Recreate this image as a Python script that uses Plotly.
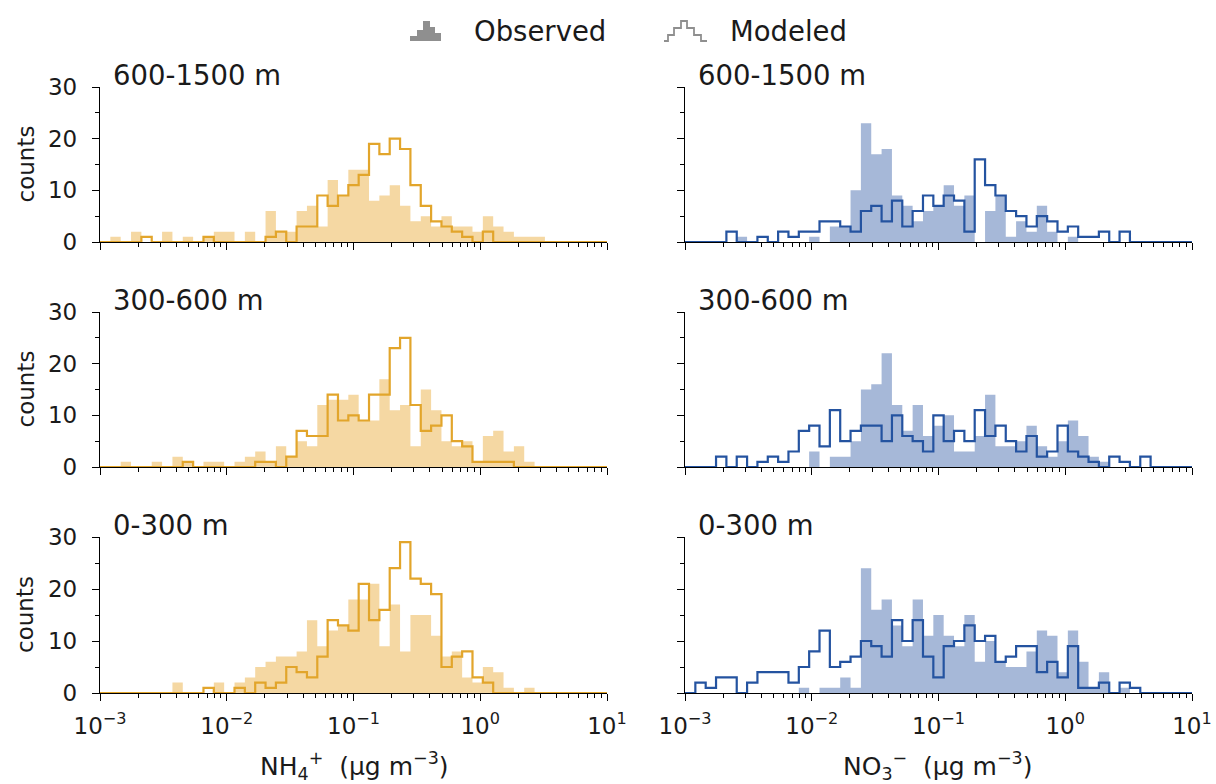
import numpy as np
import plotly.graph_objects as go

# Shared logarithmic bin edges (49 bins from 1e-3 to 1e1)
edges = np.logspace(-3, 1, 50)

# NH4+ counts per bin
nh4_obs_600_1500 = [0, 1, 0, 2, 0, 0, 2, 0, 1, 0,
                    1, 2, 2, 0, 2, 0, 6, 2, 2, 6,
                    7, 3, 12, 9, 14, 14, 8, 9, 11, 7,
                    4, 5, 3, 5, 3, 3, 2, 5, 3, 2,
                    1, 1, 1, 0, 0, 0, 0, 0, 0]
nh4_mod_600_1500 = [0, 0, 0, 0, 1, 0, 0, 0, 0, 0,
                    1, 0, 0, 0, 0, 0, 1, 2, 0, 3,
                    3, 9, 7, 9, 11, 13, 19, 17, 20, 18,
                    11, 7, 4, 3, 2, 1, 0, 2, 0, 0,
                    0, 0, 0, 0, 0, 0, 0, 0, 0]
nh4_obs_300_600 = [0, 0, 1, 0, 0, 1, 0, 2, 1, 0,
                   1, 1, 0, 1, 2, 3, 1, 4, 2, 5,
                   4, 12, 13, 13, 14, 9, 9, 17, 11, 12,
                   4, 15, 11, 5, 4, 5, 1, 6, 7, 3,
                   4, 1, 0, 0, 0, 0, 0, 0, 0]
nh4_mod_300_600 = [0, 0, 0, 0, 0, 0, 0, 0, 1, 0,
                   0, 0, 0, 0, 0, 1, 1, 0, 2, 7,
                   6, 6, 14, 9, 10, 9, 14, 14, 23, 25,
                   12, 7, 8, 10, 5, 4, 1, 1, 1, 1,
                   0, 0, 0, 0, 0, 0, 0, 0, 0]
nh4_obs_0_300 = [0, 0, 0, 0, 0, 0, 0, 2, 0, 0,
                 0, 2, 0, 2, 3, 5, 6, 7, 7, 8,
                 14, 9, 12, 13, 18, 18, 21, 9, 17, 8,
                 15, 15, 11, 7, 8, 3, 2, 5, 4, 1,
                 0, 1, 0, 0, 0, 0, 0, 0, 0]
nh4_mod_0_300 = [0, 0, 0, 0, 0, 0, 0, 0, 0, 0,
                 1, 0, 0, 1, 0, 2, 1, 2, 5, 4,
                 3, 7, 14, 13, 12, 21, 14, 16, 24, 29,
                 22, 21, 19, 5, 7, 8, 3, 2, 0, 0,
                 0, 0, 0, 0, 0, 0, 0, 0, 0]

# NO3- counts per bin
no3_obs_600_1500 = [0, 0, 0, 0, 0, 1, 0, 0, 0, 0,
                    0, 0, 1, 0, 3, 3, 10, 23, 17, 18,
                    9, 7, 4, 6, 7, 11, 7, 9, 0, 6,
                    9, 1, 4, 2, 7, 2, 0, 1, 0, 0,
                    0, 0, 0, 0, 0, 0, 0, 0, 0]
no3_mod_600_1500 = [0, 0, 0, 0, 2, 0, 0, 1, 0, 2,
                    1, 2, 2, 4, 4, 3, 2, 6, 7, 4,
                    8, 3, 6, 9, 7, 9, 8, 2, 16, 11,
                    9, 6, 5, 3, 5, 4, 2, 3, 1, 1,
                    2, 0, 2, 0, 0, 0, 0, 0, 0]
no3_obs_300_600 = [0, 0, 0, 0, 0, 0, 0, 0, 0, 0,
                   0, 0, 3, 0, 2, 2, 5, 15, 16, 22,
                   12, 7, 12, 6, 8, 10, 3, 3, 6, 14,
                   4, 4, 5, 8, 4, 2, 5, 9, 6, 2,
                   1, 0, 0, 0, 0, 0, 0, 0, 0]
no3_mod_300_600 = [0, 0, 0, 2, 0, 2, 0, 1, 2, 1,
                   3, 7, 8, 4, 11, 5, 7, 8, 8, 5,
                   10, 6, 5, 3, 10, 5, 7, 5, 11, 6,
                   8, 5, 3, 6, 2, 3, 8, 3, 2, 1,
                   0, 2, 1, 0, 2, 0, 0, 0, 0]
no3_obs_0_300 = [0, 0, 0, 0, 0, 0, 0, 0, 0, 0,
                 0, 1, 0, 1, 1, 3, 1, 24, 16, 18,
                 13, 9, 18, 11, 15, 11, 9, 15, 6, 10,
                 6, 5, 5, 8, 12, 11, 4, 12, 6, 1,
                 4, 0, 1, 0, 0, 0, 0, 0, 0]
no3_mod_0_300 = [0, 2, 1, 3, 3, 0, 2, 4, 4, 4,
                 2, 5, 8, 12, 5, 6, 7, 10, 9, 7,
                 14, 10, 14, 7, 3, 9, 10, 13, 10, 11,
                 6, 7, 9, 9, 4, 6, 3, 9, 1, 1,
                 2, 0, 2, 1, 0, 0, 0, 0, 0]

altitude_labels = ["600-1500 m", "300-600 m", "0-300 m"]
x_major = [1e-3, 1e-2, 1e-1, 1e0, 1e1]
x_major_text = ["10<sup>−3</sup>", "10<sup>−2</sup>", "10<sup>−1</sup>",
                "10<sup>0</sup>", "10<sup>1</sup>"]
y_major = [0, 10, 20, 30]
y_minor = [5, 15, 25]

NH4_FILL, NH4_LINE = "#F5D8A3", "#E2A52B"
NO3_FILL, NO3_LINE = "#A6B8D8", "#2453A0"
TEXT = "#1a1a1a"

panels = [
    # (row, col, observed, modeled, fill colour, line colour)
    (0, 0, nh4_obs_600_1500, nh4_mod_600_1500, NH4_FILL, NH4_LINE),
    (0, 1, no3_obs_600_1500, no3_mod_600_1500, NO3_FILL, NO3_LINE),
    (1, 0, nh4_obs_300_600, nh4_mod_300_600, NH4_FILL, NH4_LINE),
    (1, 1, no3_obs_300_600, no3_mod_300_600, NO3_FILL, NO3_LINE),
    (2, 0, nh4_obs_0_300, nh4_mod_0_300, NH4_FILL, NH4_LINE),
    (2, 1, no3_obs_0_300, no3_mod_0_300, NO3_FILL, NO3_LINE),
]

W, H = 1216, 784
FONT = "DejaVu Sans"
col_px = [(100, 607), (685, 1192)]
row_px = [(87, 242), (312, 467), (537, 693)]   # (top, bottom) in pixels


def step_outline(counts):
    """Histogram outline: baseline -> bin tops -> baseline."""
    xs, ys = [edges[0]], [0]
    for i, c in enumerate(counts):
        xs += [edges[i], edges[i + 1]]
        ys += [c, c]
    xs.append(edges[-1])
    ys.append(0)
    return xs, ys


x_minor = [m * 10.0 ** d for d in range(-3, 1) for m in range(2, 10)]

fig = go.Figure()
layout = {}
annotations = []

for r, c, obs, mod, fcol, lcol in panels:
    n = r * 2 + c + 1
    sfx = "" if n == 1 else str(n)
    xs_o, ys_o = step_outline(obs)
    xs_m, ys_m = step_outline(mod)
    fig.add_trace(go.Scatter(x=xs_o, y=ys_o, mode="lines", fill="tozeroy",
                             fillcolor=fcol, line=dict(width=0, color=fcol),
                             xaxis="x" + sfx, yaxis="y" + sfx,
                             showlegend=False, hoverinfo="skip"))
    fig.add_trace(go.Scatter(x=xs_m, y=ys_m, mode="lines",
                             line=dict(width=2.2, color=lcol),
                             xaxis="x" + sfx, yaxis="y" + sfx,
                             showlegend=False, hoverinfo="skip"))

    x0, x1 = col_px[c]
    top, bot = row_px[r]
    layout["xaxis" + sfx] = dict(
        type="log", range=[-3, 1], domain=[x0 / W, x1 / W],
        anchor="y" + sfx, showgrid=False, zeroline=False, automargin=False,
        showline=True, linecolor="black", linewidth=1.4,
        ticks="outside", ticklen=7, tickwidth=1.4, tickcolor="black",
        tickmode="array", tickvals=x_major, ticktext=x_major_text,
        showticklabels=(r == 2), ticklabelstandoff=5,
        tickfont=dict(family=FONT, size=23, color=TEXT),
        minor=dict(ticks="outside", ticklen=4, tickwidth=1.1,
                   tickcolor="black", tickmode="array", tickvals=x_minor,
                   showgrid=False),
    )
    layout["yaxis" + sfx] = dict(
        range=[0, 30], domain=[1 - bot / H, 1 - top / H],
        anchor="x" + sfx, showgrid=False, zeroline=False, automargin=False,
        showline=True, linecolor="black", linewidth=1.4,
        ticks="outside", ticklen=7, tickwidth=1.4, tickcolor="black",
        tickmode="array", tickvals=y_major,
        showticklabels=(c == 0), ticklabelstandoff=10,
        tickfont=dict(family=FONT, size=23, color=TEXT),
        minor=dict(ticks="outside", ticklen=4, tickwidth=1.1,
                   tickcolor="black", tickmode="array", tickvals=y_minor,
                   showgrid=False),
    )

    # altitude label in the top-left corner of each panel
    annotations.append(dict(
        text=altitude_labels[r], xref="paper", yref="paper",
        x=(x0 + 11) / W, y=1 - (top - 12) / H,
        xanchor="left", yanchor="middle", showarrow=False,
        font=dict(family=FONT, size=27.5, color=TEXT)))

    if c == 0:
        annotations.append(dict(
            text="counts", xref="paper", yref="paper",
            x=25 / W, y=1 - (top + bot) / 2 / H, textangle=-90,
            xanchor="center", yanchor="middle", showarrow=False,
            font=dict(family=FONT, size=23, color=TEXT)))

# x-axis titles
annotations.append(dict(
    text="NH<sub>4</sub><sup>+</sup>  (µg m<sup>−3</sup>)",
    xref="paper", yref="paper", x=354 / W, y=1 - 766 / H,
    xanchor="center", yanchor="middle", showarrow=False,
    font=dict(family=FONT, size=25, color=TEXT)))
annotations.append(dict(
    text="NO<sub>3</sub><sup>−</sup>  (µg m<sup>−3</sup>)",
    xref="paper", yref="paper", x=938 / W, y=1 - 766 / H,
    xanchor="center", yanchor="middle", showarrow=False,
    font=dict(family=FONT, size=25, color=TEXT)))

# legend entries
annotations.append(dict(
    text="Observed", xref="paper", yref="paper", x=472 / W, y=1 - 31 / H,
    xanchor="left", yanchor="middle", showarrow=False,
    font=dict(family=FONT, size=27.5, color=TEXT)))
annotations.append(dict(
    text="Modeled", xref="paper", yref="paper", x=728 / W, y=1 - 31 / H,
    xanchor="left", yanchor="middle", showarrow=False,
    font=dict(family=FONT, size=27.5, color=TEXT)))


def px_path(points, close):
    parts = []
    for i, (px, py) in enumerate(points):
        parts.append(("M" if i == 0 else "L") + f"{px / W:.5f},{1 - py / H:.5f}")
    return " ".join(parts) + (" Z" if close else "")


# legend glyphs: a filled step silhouette and a step outline
obs_glyph = [(410, 41), (410, 36), (417, 36), (417, 30), (423, 30), (423, 21),
             (430, 21), (430, 27), (435, 27), (435, 33), (441, 33), (441, 41)]
mod_glyph = [(664, 41), (668, 41), (668, 35), (674, 35), (674, 28), (681, 28),
             (681, 21), (687, 21), (687, 28), (694, 28), (694, 35), (701, 35),
             (701, 41), (707, 41)]
shapes = [
    dict(type="path", xref="paper", yref="paper", path=px_path(obs_glyph, True),
         fillcolor="#8f8f8f", line=dict(width=0)),
    dict(type="path", xref="paper", yref="paper", path=px_path(mod_glyph, False),
         fillcolor="rgba(0,0,0,0)", line=dict(width=1.8, color="#8f8f8f")),
]

fig.update_layout(
    width=W, height=H, margin=dict(l=0, r=0, t=0, b=0),
    paper_bgcolor="white", plot_bgcolor="white",
    showlegend=False, annotations=annotations, shapes=shapes,
    font=dict(family=FONT, color=TEXT),
    **layout,
)

fig.write_html("out.html")
